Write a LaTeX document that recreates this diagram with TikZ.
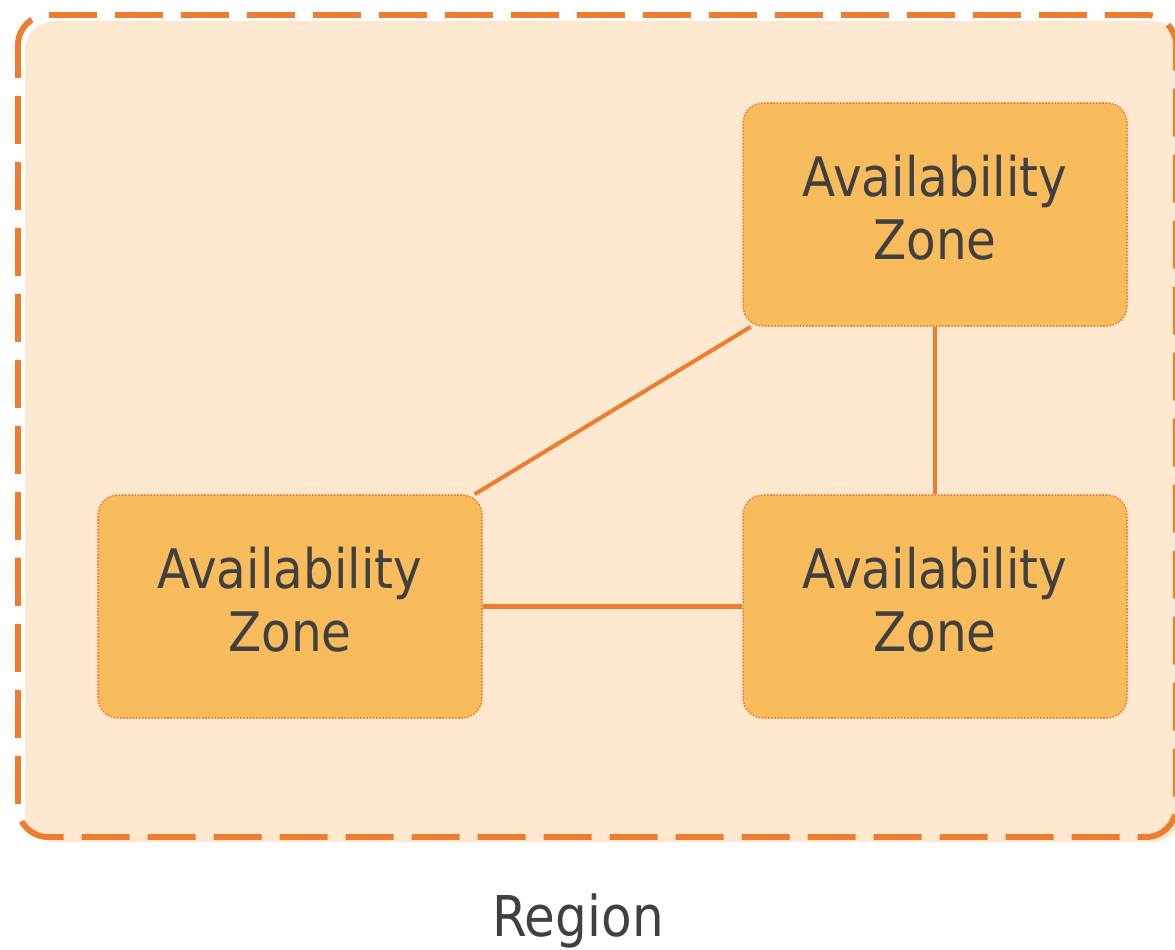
\documentclass[tikz,border=0pt]{standalone}
\usepackage{fontspec}
\setmainfont{DejaVu Sans}[FakeStretch=0.89]
\usetikzlibrary{positioning}
\definecolor{edge}{HTML}{ED7D31}
\definecolor{regionfill}{HTML}{FEE8CF}
\definecolor{zonefill}{HTML}{F8BC5C}
\definecolor{ink}{HTML}{404040}

\begin{document}
\begin{tikzpicture}[x=0.02cm,y=-0.02cm,
  zone/.style={draw=edge,line width=0.9pt,dash pattern=on 0.9pt off 0.9pt,fill=zonefill,
    rounded corners=0.4cm,minimum width=7.68cm,minimum height=4.46cm,inner sep=0pt,
    text depth=0.3cm,align=center,text=ink,font=\fontsize{31}{36}\selectfont},
  link/.style={edge,line width=2.3pt}]
  \useasboundingbox (0,0) rectangle (1175,949);

  % Region
  \fill[regionfill,rounded corners=0.6cm] (25,21) rectangle (1182,842);
  \draw[edge,line width=3.4pt,dash pattern=on 0.96cm off 0.36cm,dash phase=0.3cm,rounded corners=0.6cm] (18,15) rectangle (1176,837);
  \node[text=ink,font=\fontsize{32}{38}\selectfont,anchor=base] (region) at (578,936) {Region};

  % Zones
  \node[zone] (azTop) at (935,214.5) {Availability\\Zone};
  \node[zone] (azLeft) at (290,606.5) {Availability\\Zone};
  \node[zone] (azRight) at (935,606.5) {Availability\\Zone};

  % Links between zones
  \draw[link] (azTop) -- (azRight);
  \draw[link] (azLeft) -- (azRight);
  \draw[link] (azLeft) -- (azTop);
\end{tikzpicture}
\end{document}
